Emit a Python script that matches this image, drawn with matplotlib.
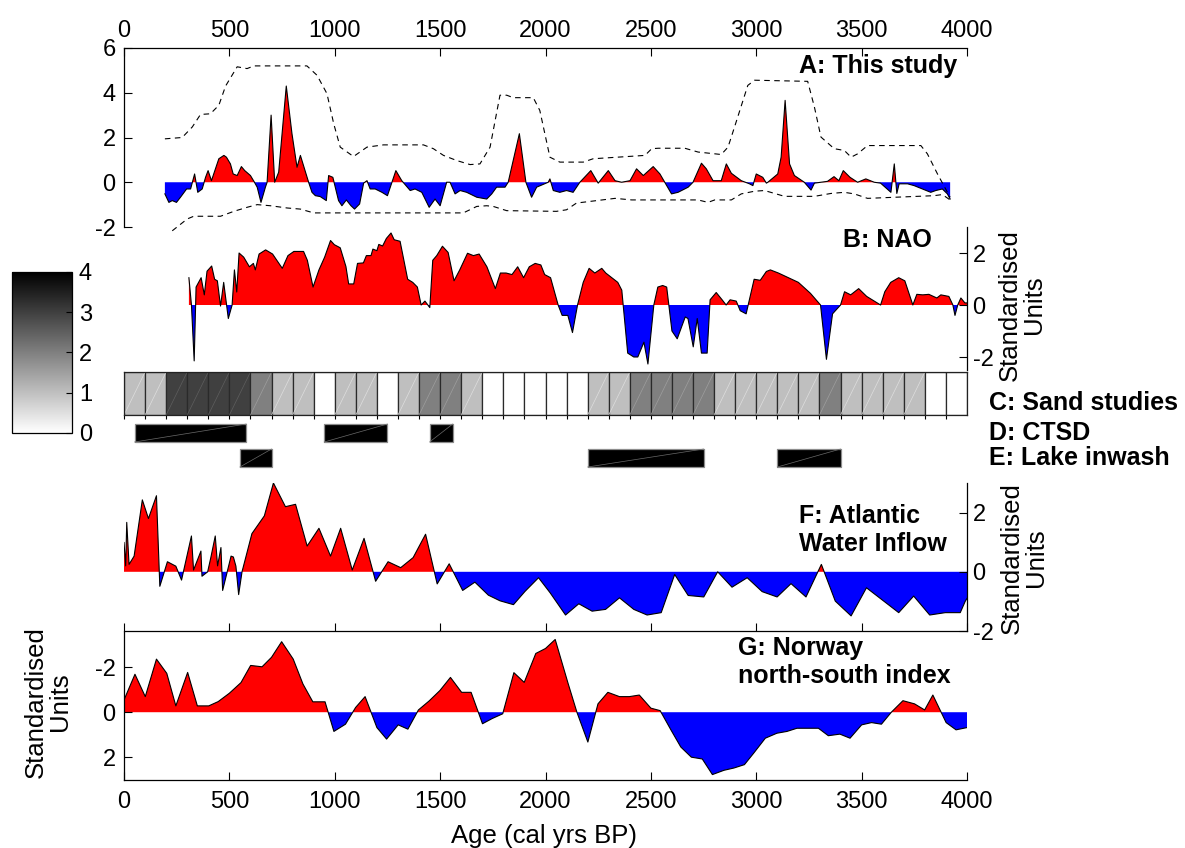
import numpy as np
import matplotlib
matplotlib.use('Agg')
import matplotlib.pyplot as plt
from matplotlib.colors import Normalize
from matplotlib.cm import ScalarMappable

plt.rcParams['font.family'] = ['Liberation Sans', 'DejaVu Sans']
plt.rcParams['axes.unicode_minus'] = False

# A: this study (storminess index) with dashed confidence envelope
a_age = [194, 213, 229, 249, 268, 297, 316, 335, 350, 371, 387, 399, 415, 434, 450, 474, 486, 505, 518,
         537, 557, 573, 600, 619, 632, 650, 671, 679, 698, 715, 734, 770, 797, 821, 837, 876, 892, 908,
         931, 960, 971, 991, 1018, 1034, 1055, 1077, 1094, 1118, 1137, 1153, 1168, 1192, 1224, 1250,
         1290, 1318, 1358, 1381, 1413, 1448, 1476, 1500, 1531, 1547, 1571, 1595, 1626, 1674, 1721,
         1745, 1768, 1808, 1823, 1876, 1907, 1934, 1958, 2013, 2021, 2037, 2068, 2100, 2131, 2163,
         2215, 2250, 2298, 2330, 2361, 2401, 2432, 2464, 2511, 2543, 2566, 2598, 2629, 2677, 2700,
         2740, 2763, 2795, 2834, 2858, 2882, 2929, 2968, 2984, 3000, 3031, 3048, 3055, 3102, 3118,
         3137, 3158, 3181, 3228, 3260, 3276, 3307, 3338, 3369, 3392, 3413, 3445, 3481, 3520, 3560,
         3590, 3639, 3655, 3667, 3678, 3718, 3749, 3789, 3828, 3852, 3883, 3907, 3920]
a_val = [-0.52, -0.9, -0.82, -0.9, -0.67, -0.3, -0.3, 0.37, -0.45, -0.3, 0.22, 0.52, 0.07, 0.6, 1.05,
         1.2, 1.12, 0.82, 0.37, 0.3, 0.7, 0.52, 0.3, 0.0, -0.22, -0.9, -0.22, 0.0, 3.0, 0.0, 0.45, 4.3,
         2.17, 0.67, 1.2, 0.0, -0.45, -0.6, -0.64, -0.82, 0.3, 0.22, -0.82, -1.05, -0.79, -1.05, -1.2,
         -0.97, -0.04, 0.07, -0.3, -0.3, -0.45, -0.6, 0.52, 0.07, -0.37, -0.3, -0.45, -1.12, -0.75,
         -1.05, 0.0, 0.0, -0.52, -0.37, -0.45, -0.67, -0.75, -0.52, -0.22, -0.22, 0.0, 2.17, 0.0,
         -0.67, -0.22, 0.0, 0.15, -0.37, -0.45, -0.37, -0.45, 0.0, 0.52, -0.04, 0.52, 0.07, 0.0, 0.07,
         0.6, 0.3, 0.7, 0.37, 0.0, -0.52, -0.45, -0.22, 0.0, 0.85, 0.6, 0.07, 0.07, 0.82, 0.4, 0.07,
         -0.07, -0.15, 0.37, 0.22, -0.04, 0.0, 0.37, 1.12, 3.66, 0.82, 0.3, 0.0, -0.35, -0.04, 0.0,
         0.04, 0.25, 0.07, 0.52, 0.22, 0.0, 0.15, 0.0, -0.04, -0.45, 0.82, -0.5, -0.07, -0.07, -0.15,
         -0.3, -0.45, -0.37, -0.3, -0.52, -0.75]
a_up_age = [194, 276, 324, 363, 410, 450, 482, 537, 584, 616, 868, 916, 963, 995, 1026, 1089, 1153,
            1231, 1421, 1468, 1516, 1579, 1642, 1689, 1737, 1784, 1816, 1847, 1942, 1973, 2021, 2068,
            2179, 2226, 2472, 2504, 2535, 2661, 2724, 2834, 2866, 2897, 2960, 2992, 3244, 3276, 3307,
            3370, 3418, 3450, 3481, 3528, 3781, 3812, 3860, 3920]
a_up = [1.94, 2.0, 2.47, 3.03, 3.06, 3.44, 4.3, 5.16, 5.08, 5.2, 5.2, 4.78, 3.96, 2.62, 1.57, 1.15,
        1.57, 1.67, 1.67, 1.5, 1.2, 0.97, 0.79, 0.82, 1.57, 3.89, 3.89, 3.78, 3.78, 3.21, 1.12, 0.9,
        0.9, 1.05, 1.2, 1.5, 1.52, 1.52, 1.35, 1.24, 1.57, 2.47, 4.33, 4.56, 4.51, 3.36, 2.02, 1.5,
        1.42, 1.12, 1.27, 1.64, 1.64, 1.27, 0.37, -0.67]
a_lo_age = [229, 300, 331, 458, 521, 584, 632, 695, 774, 837, 900, 1610, 1674, 1721, 1752, 1816,
            2052, 2100, 2147, 2330, 2409, 2724, 2771, 2803, 2882, 2929, 2992, 3039, 3087, 3134, 3276,
            3355, 3418, 3465, 3528, 3844, 3883, 3920]
a_lo = [-2.17, -1.64, -1.52, -1.52, -1.3, -1.12, -1.0, -1.05, -1.15, -1.2, -1.37, -1.37, -1.08, -1.05,
        -1.08, -1.27, -1.3, -1.23, -0.93, -0.72, -0.79, -0.79, -0.9, -0.79, -0.79, -0.52, -0.4, -0.37,
        -0.5, -0.63, -0.63, -0.5, -0.45, -0.52, -0.72, -0.6, -0.55, -0.79]

# B: NAO reconstruction
b_age = [308, 320, 333, 342, 366, 381, 394, 416, 430, 443, 458, 473, 495, 513, 524, 535, 546, 568,
         595, 614, 623, 641, 672, 705, 751, 778, 806, 852, 870, 897, 925, 952, 980, 998, 1026, 1053,
         1066, 1090, 1108, 1136, 1150, 1172, 1181, 1200, 1209, 1227, 1245, 1267, 1282, 1310, 1328,
         1346, 1370, 1392, 1410, 1428, 1451, 1465, 1484, 1511, 1538, 1566, 1593, 1630, 1658, 1685,
         1722, 1762, 1786, 1813, 1841, 1868, 1896, 1923, 1951, 1978, 1996, 2024, 2060, 2079, 2106,
         2128, 2152, 2179, 2207, 2234, 2267, 2286, 2343, 2362, 2390, 2419, 2438, 2467, 2486, 2514,
         2533, 2556, 2575, 2600, 2625, 2663, 2676, 2701, 2720, 2740, 2767, 2781, 2810, 2838, 2857,
         2876, 2905, 2924, 2952, 2990, 3019, 3048, 3067, 3105, 3200, 3257, 3305, 3333, 3362, 3400,
         3419, 3448, 3486, 3524, 3590, 3610, 3638, 3676, 3705, 3743, 3762, 3790, 3819, 3857, 3876,
         3895, 3914, 3933, 3943, 3956, 3971, 3990, 4000]
b_val = [1.05, 0.0, -2.15, 0.69, 1.05, 0.39, 1.3, 1.5, 0.99, 0.93, -0.04, 0.87, -0.52, 0.0, 1.35, 0.5,
         2.0, 1.84, 1.47, 1.6, 1.35, 1.96, 2.12, 1.96, 1.41, 1.9, 2.06, 2.06, 1.72, 0.69, 1.35, 1.84,
         2.48, 2.32, 2.2, 1.48, 0.81, 0.81, 1.6, 1.62, 1.9, 1.9, 2.15, 2.09, 2.33, 2.27, 2.56, 2.77,
         2.51, 2.45, 1.72, 0.99, 0.87, 0.69, 0.0, 0.15, -0.1, 1.72, 1.9, 2.26, 2.02, 0.93, 1.35, 1.99,
         1.9, 1.96, 1.47, 0.63, 1.23, 1.23, 1.17, 1.47, 1.05, 1.47, 1.6, 1.54, 1.17, 1.05, 0.0, -0.4,
         -0.4, -1.06, 0.0, 0.87, 1.41, 1.23, 1.41, 1.23, 0.87, 0.57, -1.85, -2.0, -2.0, -1.43, -2.27,
         0.0, 0.69, 0.75, 0.69, -1.0, -1.3, -0.46, -0.52, -1.61, -0.52, -1.85, -1.85, 0.2, 0.48, 0.2,
         0.0, 0.2, 0.15, -0.22, -0.34, 0.99, 0.95, 1.29, 1.35, 1.23, 0.87, 0.45, 0.0, -2.09, -0.34,
         0.0, 0.51, 0.39, 0.63, 0.33, 0.0, 0.51, 0.87, 1.05, 0.93, 0.0, 0.41, 0.39, 0.41, 0.27, 0.39,
         0.36, 0.33, 0.0, -0.4, 0.0, 0.27, 0.08, 0.08]

# C: sand studies, number of records per 100-year bin (0-4)
sand_start = list(range(0, 4000, 100))
sand_count = [1, 1, 3, 3, 3, 3, 2, 1, 1, 0, 1, 1, 0, 1, 2, 2, 1, 0, 0, 0,
              0, 0, 1, 1, 2, 2, 2, 2, 1, 1, 1, 1, 1, 2, 1, 1, 1, 1, 0, 0]

# D: CTSD and E: lake inwash periods (start, end)
ctsd = [(50, 580), (950, 1250), (1450, 1560)]
inwash = [(550, 700), (2200, 2750), (3100, 3400)]

# F: Atlantic water inflow
f_age = [0, 8, 13, 24, 48, 87, 116, 154, 170, 206, 246, 273, 320, 330, 365, 370, 397, 412, 433, 444,
         460, 468, 508, 519, 531, 544, 560, 607, 666, 709, 766, 814, 869, 925, 980, 1028, 1083, 1139,
         1194, 1253, 1313, 1372, 1431, 1486, 1543, 1607, 1665, 1729, 1784, 1848, 1903, 1967, 2022,
         2095, 2158, 2221, 2285, 2351, 2419, 2482, 2549, 2613, 2677, 2751, 2817, 2885, 2957, 3028,
         3099, 3165, 3236, 3309, 3375, 3450, 3523, 3605, 3676, 3747, 3823, 3897, 3968, 3992, 4000]
f_val = [0.99, 0.2, 1.67, 0.25, 0.53, 2.43, 1.8, 2.57, -0.49, 0.34, 0.19, -0.28, 1.21, 0.06, 0.7,
         -0.15, 0.0, 0.48, 1.21, 0.2, 0.82, -0.63, 0.53, 0.5, 0.19, -0.77, 0.0, 1.29, 1.89, 3.0, 2.2,
         2.28, 0.87, 1.47, 0.53, 1.47, 0.06, 1.13, -0.32, 0.34, 0.14, 0.48, 1.27, -0.41, 0.27, -0.63,
         -0.35, -0.79, -0.98, -1.11, -0.66, -0.2, -0.71, -1.46, -1.08, -1.33, -1.27, -0.88, -1.27,
         -1.46, -1.38, -0.09, -0.8, -0.85, 0.0, -0.52, -0.2, -0.67, -0.85, -0.4, -0.85, 0.25, -0.99,
         -1.49, -0.54, -0.99, -1.38, -0.82, -1.46, -1.38, -1.38, -0.99, -0.9]

# G: Norway north-south index (plotted on a reversed axis)
g_age = [0, 52, 101, 154, 203, 246, 302, 348, 402, 447, 500, 555, 601, 655, 700, 748, 803, 849, 896,
         954, 996, 1051, 1099, 1144, 1200, 1246, 1301, 1347, 1397, 1448, 1499, 1549, 1602, 1647,
         1701, 1747, 1797, 1850, 1899, 1954, 2000, 2046, 2107, 2149, 2201, 2249, 2296, 2351, 2398,
         2445, 2500, 2544, 2595, 2642, 2692, 2744, 2792, 2847, 2894, 2944, 2988, 3043, 3098, 3146,
         3193, 3240, 3295, 3342, 3397, 3445, 3500, 3547, 3594, 3641, 3696, 3751, 3799, 3838, 3901,
         3948, 4000]
g_val = [-0.54, -1.68, -0.69, -2.35, -1.72, -0.28, -1.76, -0.28, -0.28, -0.47, -0.84, -1.31, -2.07,
         -2.01, -2.43, -3.12, -2.35, -1.25, -0.46, -0.46, 0.85, 0.53, -0.21, -0.69, 0.68, 1.19, 0.56,
         0.75, -0.1, -0.5, -0.96, -1.54, -0.88, -0.88, 0.51, 0.28, 0.07, -1.75, -1.32, -2.6, -2.82,
         -3.22, -1.28, 0.0, 1.32, -0.37, -0.88, -0.69, -0.69, -0.76, -0.18, -0.07, 0.78, 1.54, 1.99,
         2.07, 2.76, 2.57, 2.47, 2.32, 1.81, 1.15, 0.93, 0.85, 0.71, 0.71, 0.71, 1.04, 0.97, 1.15,
         0.56, 0.46, 0.53, 0.0, -0.51, -0.37, -0.1, -0.76, 0.46, 0.78, 0.68]

age_ticks = list(range(0, 4001, 500))

W, H = 1185, 848
fig = plt.figure(figsize=(W / 100, H / 100), dpi=100)


def box(l, t, r, b):
    # pixel rectangle -> figure fraction
    return [l / W, 1 - b / H, (r - l) / W, (b - t) / H]


def ftext(x, y, s, **kw):
    fig.text(x / W, 1 - y / H, s, **kw)


def area(ax, x, y, up_col, down_col):
    x = np.asarray(x, float)
    y = np.asarray(y, float)
    ax.fill_between(x, 0, y, where=y >= 0, interpolate=True, color=up_col, lw=0)
    ax.fill_between(x, 0, y, where=y <= 0, interpolate=True, color=down_col, lw=0)
    ax.plot(x, y, color='k', lw=0.8)


def style(ax, spines):
    for side in ['left', 'right', 'top', 'bottom']:
        ax.spines[side].set_visible(side in spines)
        ax.spines[side].set_linewidth(0.9)
    ax.set_facecolor('none')
    ax.tick_params(direction='in', length=5.5, width=0.8, labelsize=17, pad=6)
    ax.set_xlim(0, 4000)


RED, BLUE = '#ff0000', '#0000ff'

# ---- A
axA = fig.add_axes(box(124, 48, 967, 227))
style(axA, ['top', 'left'])
area(axA, a_age, a_val, RED, BLUE)
axA.plot(a_up_age, a_up, 'k--', lw=0.8, dashes=(5, 4), clip_on=False)
axA.plot(a_lo_age, a_lo, 'k--', lw=0.8, dashes=(5, 4), clip_on=False)
axA.set_ylim(-2, 6)
axA.set_yticks([-2, 0, 2, 4, 6])
axA.xaxis.tick_top()
axA.set_xticks(age_ticks)
axA.tick_params(axis='x', pad=4)

# ---- B
axB = fig.add_axes(box(124, 227, 967, 370))
style(axB, ['right'])
area(axB, b_age, b_val, RED, BLUE)
axB.set_ylim(-2.5, 3)
axB.yaxis.tick_right()
axB.set_yticks([-2, 0, 2])
axB.set_xticks([])
axB.tick_params(axis='y', pad=4)

# ---- C
axC = fig.add_axes(box(124, 372, 967, 415))
style(axC, ['left', 'right', 'top', 'bottom'])
for s in axC.spines.values():
    s.set_color('#222222')
levels = [1 - c / 4 for c in sand_count]
axC.bar(sand_start, 1, width=100, align='edge', color=[str(v) for v in levels],
        edgecolor='#2a2a2a', lw=0.9)
for x0, v in zip(sand_start, levels):
    if v < 1:
        axC.plot([x0, x0 + 100], [0, 1], color=str(min(v + 0.12, 1)), lw=0.5)
axC.set_ylim(0, 1)
axC.set_yticks([])
axC.set_xticks(sand_start)
axC.tick_params(axis='x', direction='out', length=3, labelbottom=False)

# ---- D / E
axDE = fig.add_axes(box(124, 418, 967, 470))
style(axDE, [])
axDE.set_ylim(52, 0)
axDE.set_xticks([])
axDE.set_yticks([])
for rows, y0 in [(ctsd, 6), (inwash, 31)]:
    axDE.broken_barh([(s, e - s) for s, e in rows], (y0, 18), facecolor='black',
                     edgecolor='#8c8c8c', lw=0.9)
    for s, e in rows:
        axDE.plot([s, e], [y0 + 18, y0], color='#6a6a6a', lw=0.5)

# ---- F
axF = fig.add_axes(box(124, 483, 967, 631))
style(axF, ['right', 'bottom'])
area(axF, f_age, f_val, RED, BLUE)
axF.set_ylim(-2, 3)
axF.yaxis.tick_right()
axF.set_yticks([-2, 0, 2])
axF.set_xticks(age_ticks)
axF.tick_params(axis='x', labelbottom=False)
axF.tick_params(axis='y', pad=4)

# ---- G
axG = fig.add_axes(box(124, 632, 967, 780))
style(axG, ['left', 'bottom'])
area(axG, g_age, g_val, BLUE, RED)
axG.set_ylim(3, -3.55)
axG.set_yticks([-2, 0, 2])
axG.set_xticks(age_ticks)
axG.tick_params(axis='x', pad=8)

# ---- colour scale for C
axCb = fig.add_axes(box(12, 272, 72, 433))
cb = fig.colorbar(ScalarMappable(norm=Normalize(0, 4), cmap='gray_r'), cax=axCb)
cb.set_ticks([0, 1, 2, 3, 4])
cb.outline.set_linewidth(0.9)
axCb.tick_params(direction='in', length=4, width=0.8, labelsize=17, pad=5)

# ---- labels
bold = dict(weight='bold', size=18, va='center')
ftext(957, 66, 'A: This study', ha='right', **bold)
ftext(932, 240, 'B: NAO', ha='right', **bold)
ftext(989, 403, 'C: Sand studies', ha='left', **bold)
ftext(989, 433, 'D: CTSD', ha='left', **bold)
ftext(989, 458, 'E: Lake inwash', ha='left', **bold)
ftext(799, 530, 'F: Atlantic\nWater Inflow', ha='left', linespacing=1.22, **bold)
ftext(738, 662, 'G: Norway\nnorth-south index', ha='left', linespacing=1.22, **bold)

unit = dict(rotation=90, ha='center', va='center', size=18.5, linespacing=1.0, multialignment='center')
ftext(1022, 305, 'Standardised\nUnits', **unit)
ftext(1024, 558, 'Standardised\nUnits', **unit)
ftext(48, 702, 'Standardised\nUnits', **unit)
ftext(544, 836, 'Age (cal yrs BP)', ha='center', va='center', size=18.5)

fig.savefig('out.png', dpi=100)
